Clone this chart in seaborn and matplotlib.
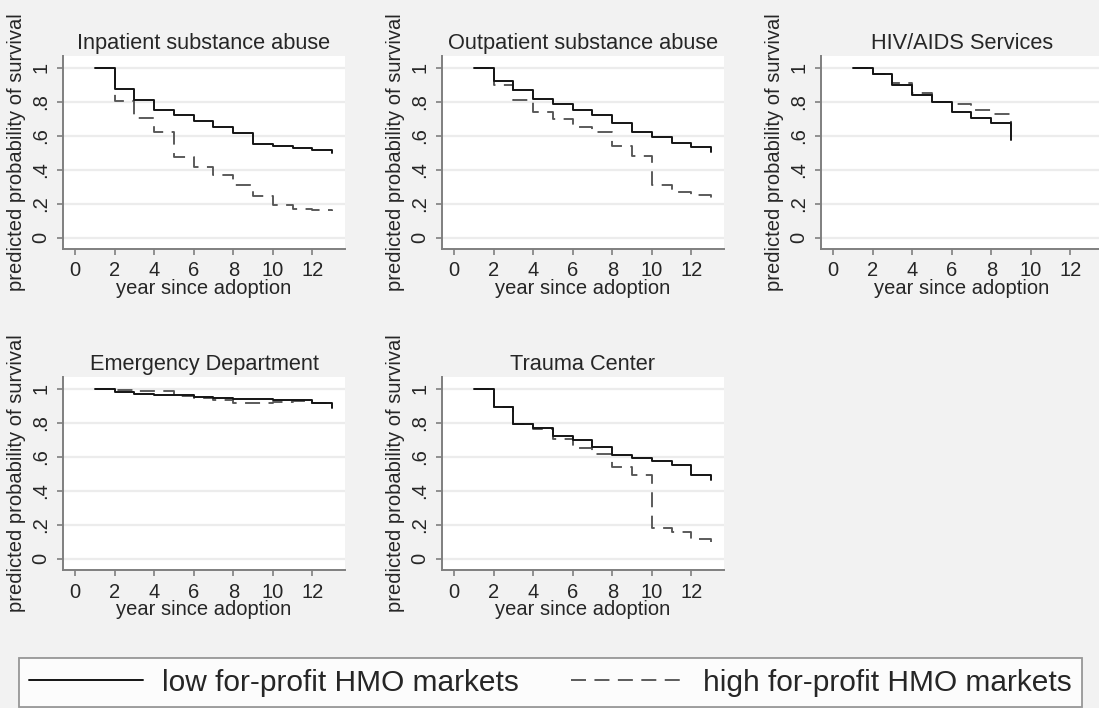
import numpy as np
import pandas as pd
import matplotlib
matplotlib.use("Agg")
import matplotlib.pyplot as plt
import seaborn as sns

# ---------------- data ----------------
years13 = [1, 2, 3, 4, 5, 6, 7, 8, 9, 10, 11, 12, 13]
years9 = [1, 2, 3, 4, 5, 6, 7, 8, 9]

inpat_low = [1.0, .877, .809, .750, .725, .688, .653, .614, .552, .542, .526, .519, .497]
inpat_high = [1.0, .803, .706, .624, .478, .419, .370, .312, .248, .195, .172, .162, .158]

outpat_low = [1.0, .922, .871, .819, .786, .750, .725, .673, .624, .595, .559, .532, .507]
outpat_high = [1.0, .901, .809, .741, .696, .653, .624, .542, .481, .312, .267, .250, .228]

hiv_low = [1.0, .961, .898, .840, .797, .742, .703, .674, .576]
hiv_high = [1.0, .961, .908, .850, .800, .785, .752, .729, .660]

ed_low = [1.0, .982, .972, .966, .961, .953, .943, .939, .939, .933, .931, .917, .884]
ed_high = [1.0, .99, .985, .985, .955, .945, .935, .915, .915, .925, .928, .918, .900]

trauma_low = [1.0, .894, .795, .770, .720, .701, .657, .612, .594, .575, .553, .496, .461]
trauma_high = [1.0, .894, .790, .765, .705, .654, .618, .543, .496, .179, .156, .116, .077]

titles = ["Inpatient substance abuse", "Outpatient substance abuse", "HIV/AIDS Services",
          "Emergency Department", "Trauma Center"]
series_labels = ["low for-profit HMO markets", "high for-profit HMO markets"]
xticks = [0, 2, 4, 6, 8, 10, 12]
yticks = [0, .2, .4, .6, .8, 1]
ytick_labels = ["0", ".2", ".4", ".6", ".8", "1"]
xlabel = "year since adoption"
ylabel = "predicted probability of survival"

panels = [
    (years13, inpat_low, inpat_high),
    (years13, outpat_low, outpat_high),
    (years9, hiv_low, hiv_high),
    (years13, ed_low, ed_high),
    (years13, trauma_low, trauma_high),
]

# ---------------- style ----------------
sns.set_style("ticks")
BG = "#f2f2f2"
plt.rcParams["font.family"] = ["Liberation Sans", "DejaVu Sans"]
plt.rcParams["figure.facecolor"] = BG

W, H = 1099, 708
fig = plt.figure(figsize=(W / 100, H / 100), dpi=100)
fig.patch.set_facecolor(BG)

lefts = [63, 442, 821]
pw = 282
tops = [56, 377]
ph = 193

positions = [(lefts[0], tops[0]), (lefts[1], tops[0]), (lefts[2], tops[0]),
             (lefts[0], tops[1]), (lefts[1], tops[1])]

SOLID_C = "#141414"
DASH_C = "#555555"
AXIS_C = "#7f7f7f"
GRID_C = "#ececec"
TEXT_C = "#262626"
dash_style = (0, (8, 4.5))

axes = []
for i, ((lx, ty), (yrs, low, high)) in enumerate(zip(positions, panels)):
    ax = fig.add_axes([lx / W, 1 - (ty + ph) / H, pw / W, ph / H])
    ax.set_facecolor("white")
    for yv in yticks:
        ax.axhline(yv, color=GRID_C, lw=1.6, zorder=0)
    sns.lineplot(x=yrs, y=high, ax=ax, color=DASH_C, lw=1.35, drawstyle="steps-post",
                 linestyle=dash_style, errorbar=None, label=series_labels[1], legend=False)
    sns.lineplot(x=yrs, y=low, ax=ax, color=SOLID_C, lw=1.4, drawstyle="steps-post",
                 errorbar=None, label=series_labels[0], legend=False)
    ax.set_xlim(-0.61, 13.65)
    ax.set_ylim(-0.065, 1.069)
    ax.set_xticks(xticks)
    ax.set_yticks(yticks)
    ax.set_yticklabels(ytick_labels, rotation=90, va="center")
    ax.tick_params(axis="both", colors=AXIS_C, length=4, width=1.2, labelsize=14.5,
                   labelcolor=TEXT_C)
    ax.tick_params(axis="y", pad=5)
    ax.tick_params(axis="x", pad=5)
    for s in ["top", "right"]:
        ax.spines[s].set_visible(False)
    for s in ["left", "bottom"]:
        ax.spines[s].set_color(AXIS_C)
        ax.spines[s].set_linewidth(1.4)
    ax.grid(False)
    ax.set_xlabel(xlabel, fontsize=14.5, color=TEXT_C, labelpad=-1)
    ax.set_ylabel(ylabel, fontsize=14.5, color=TEXT_C, labelpad=4)
    ax.set_title(titles[i], fontsize=15.7, color=TEXT_C, pad=5)
    axes.append(ax)

lines = axes[0].get_lines()
h_high = [l for l in lines if l.get_label() == series_labels[1]][0]
h_low = [l for l in lines if l.get_label() == series_labels[0]][0]

leg = fig.legend([h_low, h_high], series_labels, loc="lower left",
                 bbox_to_anchor=(19 / W, 1 - 707 / H), ncol=2, fontsize=21.5,
                 frameon=True, fancybox=False, handlelength=3.8, handletextpad=0.63,
                 columnspacing=1.75, borderpad=0.35, borderaxespad=0)
leg.get_frame().set_edgecolor(AXIS_C)
leg.get_frame().set_linewidth(1.3)
leg.get_frame().set_facecolor("white")
for t in leg.get_texts():
    t.set_color(TEXT_C)

fig.savefig("out.png", dpi=100, facecolor=BG)
